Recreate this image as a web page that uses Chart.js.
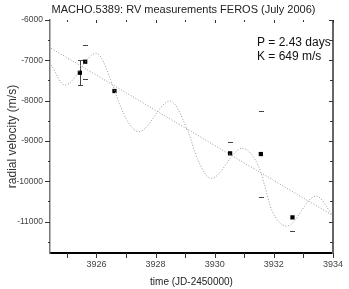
<!DOCTYPE html>
<html><head><meta charset="utf-8">
<script src="https://cdn.jsdelivr.net/npm/chart.js@4.4.0/dist/chart.umd.min.js"></script>
<style>html,body{margin:0;padding:0;background:#fff}#wrap{width:349px;height:289px}</style>
</head><body><div id="wrap"><canvas id="c" width="349" height="289"></canvas></div>
<script>
// Observed radial velocities (FEROS)
const obsTime = [3925.44, 3925.62, 3926.61, 3930.52, 3931.56, 3932.63];
const obsRV   = [-7308, -7035, -7762, -9308, -9325, -10896];
const obsErrUp   = [310, 425, 0, 273, 1067, 0];
const obsErrDown = [310, 425, 0, 0, 1067, 347];
const obsErrLine = [true, false, false, false, false, false];
// Orbital fit curve
const fitTime = [3924.47, 3924.93, 3925.99, 3926.62, 3926.77, 3927.10, 3927.43, 3928.49, 3929.10, 3929.43, 3929.88,
                 3930.93, 3931.49, 3931.70, 3931.93, 3932.43, 3933.43, 3934.0];
const fitRV   = [-7117, -7613, -6826, -7754, -8067, -8563, -8772, -8010, -8772, -9474, -9928,
                 -9184, -9640, -10136, -10715, -11112, -10367, -10864];
// Linear trend line
const trendTime = [3924.47, 3934.0];
const trendRV   = [-6702, -10854];
// Axis ticks
const xTicks = [3926, 3928, 3930, 3932, 3934];
const xMinor = [3925, 3927, 3929, 3931, 3933];
const yTicks = [-11000, -10000, -9000, -8000, -7000, -6000];
const yMinor = [-11500, -10500, -9500, -8500, -7500, -6500];
const titleText = 'MACHO.5389: RV measurements FEROS (July 2006)';
const noteLines = ['P = 2.43 days', 'K = 649 m/s'];

const FONT = "'Liberation Sans', Arial, sans-serif";

const pts = (xs, ys) => xs.map((x, i) => ({x, y: ys[i]}));

const deco = {
  id: 'deco',
  beforeDatasetsDraw(chart) {
    const {ctx, scales: {x, y}} = chart;
    ctx.save();
    ctx.strokeStyle = '#444';
    ctx.lineWidth = 1;
    ctx.beginPath();
    obsTime.forEach((t, i) => {
      const px = Math.round(x.getPixelForValue(t)) + 0.5;
      const top = y.getPixelForValue(obsRV[i] + obsErrUp[i]);
      const bot = y.getPixelForValue(obsRV[i] - obsErrDown[i]);
      if (obsErrUp[i]) { ctx.moveTo(px - 2.5, Math.round(top) + 0.5); ctx.lineTo(px + 2.5, Math.round(top) + 0.5); }
      if (obsErrDown[i]) { ctx.moveTo(px - 2.5, Math.round(bot) + 0.5); ctx.lineTo(px + 2.5, Math.round(bot) + 0.5); }
      if (obsErrLine[i]) { ctx.moveTo(px, top); ctx.lineTo(px, bot); }
    });
    ctx.stroke();
    ctx.restore();
  },
  afterDraw(chart) {
    const {ctx, chartArea: a, scales: {x, y}} = chart;
    ctx.save();
    // right axis
    ctx.strokeStyle = '#666';
    ctx.lineWidth = 2;
    ctx.beginPath(); ctx.moveTo(a.right, a.top); ctx.lineTo(a.right, a.bottom + 1); ctx.stroke();
    ctx.lineWidth = 1;
    ctx.strokeStyle = '#333';
    ctx.beginPath();
    xTicks.concat(xMinor).forEach(v => {
      const px = Math.round(x.getPixelForValue(v)) + 0.5;
      const major = xTicks.includes(v);
      ctx.moveTo(px, a.bottom); ctx.lineTo(px, a.bottom + 5);
      ctx.moveTo(px, a.top); ctx.lineTo(px, a.top + (major ? 3 : 2));
    });
    yTicks.concat(yMinor).forEach(v => {
      const py = Math.round(y.getPixelForValue(v)) + 0.5;
      const major = yTicks.includes(v);
      ctx.moveTo(a.left, py); ctx.lineTo(a.left - (major ? 5 : 2), py);
      ctx.moveTo(a.right, py); ctx.lineTo(a.right - (major ? 4 : 3), py);
    });
    ctx.stroke();
    // title
    ctx.fillStyle = '#222';
    ctx.font = '11px ' + FONT;
    ctx.textAlign = 'center';
    ctx.textBaseline = 'middle';
    ctx.fillText(titleText, 183.5, 10);
    // note
    ctx.font = '12px ' + FONT;
    ctx.textAlign = 'left';
    ctx.fillStyle = '#111';
    ctx.fillText(noteLines[0], 257, 43);
    ctx.fillText(noteLines[1], 257, 57);
    ctx.restore();
  }
};

new Chart(document.getElementById('c'), {
  type: 'scatter',
  data: {
    datasets: [
      {data: pts(fitTime, fitRV), showLine: true, borderColor: '#999', borderWidth: 1,
       borderDash: [1, 1.8], pointRadius: 0, cubicInterpolationMode: 'monotone', fill: false},
      {data: pts(trendTime, trendRV), showLine: true, borderColor: '#999', borderWidth: 1,
       borderDash: [1, 1.8], pointRadius: 0, tension: 0, fill: false},
      {data: pts(obsTime, obsRV), pointStyle: 'rect', pointRadius: 3, backgroundColor: '#000',
       borderColor: '#000', borderWidth: 0}
    ]
  },
  options: {
    responsive: false, animation: false, devicePixelRatio: 1,
    layout: {padding: {top: 20, right: 12, left: 0, bottom: 0}},
    plugins: {legend: {display: false}, tooltip: {enabled: false}, title: {display: false}},
    scales: {
      x: {
        type: 'linear', min: 3924.43, max: 3934,
        afterFit(s) { s.height = 36; },
        afterBuildTicks(s) { s.ticks = xTicks.map(v => ({value: v})); },
        ticks: {font: {family: FONT, size: 9}, color: '#444', padding: 6, maxRotation: 0,
                callback: v => String(v)},
        grid: {display: false, drawTicks: false},
        border: {display: true, color: '#000', width: 2},
        title: {display: true, text: 'time (JD-2450000)', font: {family: FONT, size: 10},
                color: '#222', padding: {top: 0, bottom: 1}}
      },
      y: {
        type: 'linear', min: -11780, max: -6000,
        afterFit(s) { s.width = 50; },
        afterBuildTicks(s) { s.ticks = yTicks.map(v => ({value: v})); },
        ticks: {font: {family: FONT, size: 8.5}, color: '#444', padding: 7,
                callback: v => String(v)},
        grid: {display: false, drawTicks: false},
        border: {display: true, color: '#777', width: 1.5},
        title: {display: true, text: 'radial velocity (m/s)', font: {family: FONT, size: 12},
                color: '#333', padding: {top: 5, bottom: 0}}
      }
    }
  },
  plugins: [deco]
});
</script>
</body></html>
